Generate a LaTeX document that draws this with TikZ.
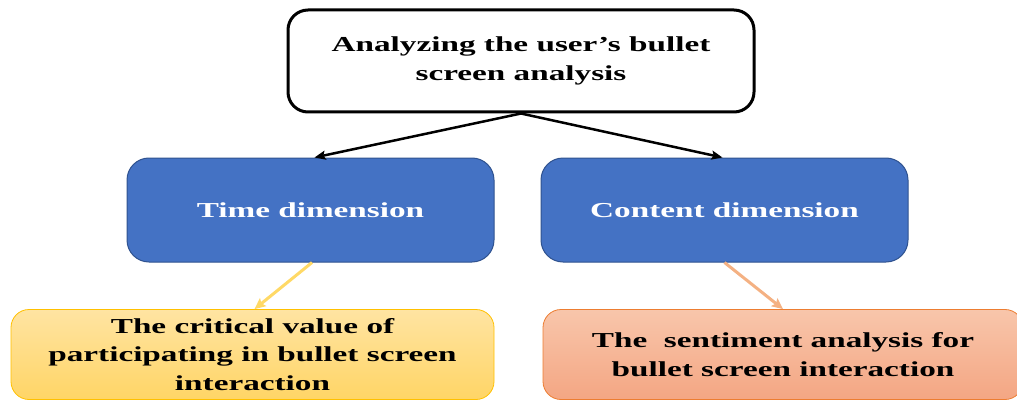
\documentclass[tikz,border=0pt]{standalone}
\usepackage{fontspec}
\setmainfont[FakeStretch=1.56]{Liberation Serif}
\usetikzlibrary{arrows.meta}
\definecolor{blueFill}{HTML}{4472C4}
\definecolor{blueLine}{HTML}{2F528F}
\definecolor{goldTop}{HTML}{FFE4A2}
\definecolor{goldBot}{HTML}{FFD566}
\definecolor{goldLine}{HTML}{FFC000}
\definecolor{goldArrow}{HTML}{FFD966}
\definecolor{peachTop}{HTML}{F8C6AB}
\definecolor{peachBot}{HTML}{F4A683}
\definecolor{peachLine}{HTML}{ED7D31}
\definecolor{peachArrow}{HTML}{F4B183}
\tikzset{
  txt/.style={align=center, font=\fontsize{21.3}{28.5}\selectfont\bfseries, inner sep=0pt},
  rootbox/.style={txt, draw=black, line width=3pt, fill=white, rounded corners=20pt,
    minimum width=466pt, minimum height=102pt},
  dimbox/.style={txt, text=white, draw=blueLine, line width=1pt, fill=blueFill,
    rounded corners=22pt, minimum width=367pt, minimum height=104pt},
  goldbox/.style={txt, draw=goldLine, line width=0.8pt, top color=goldTop, bottom color=goldBot,
    rounded corners=18pt, minimum width=483pt, minimum height=90pt},
  peachbox/.style={txt, draw=peachLine, line width=0.8pt, top color=peachTop, bottom color=peachBot,
    rounded corners=18pt, minimum width=480pt, minimum height=90pt},
  blackarrow/.style={line width=2.5pt, -{Stealth[length=11pt,width=9pt,inset=2pt]}},
  softarrow/.style={line width=3pt, -{Stealth[length=11pt,width=10pt,inset=2pt]}},
}
\begin{document}
\begin{tikzpicture}[x=1pt,y=-1pt]
  \useasboundingbox (0,0) rectangle (1017,401);
  \clip (0,0) rectangle (1017,401);
  \node[rootbox] (root) at (521,61) {Analyzing the user’s bullet\\screen analysis};
  \node[dimbox] (time) at (310.5,210) {Time dimension};
  \node[dimbox] (content) at (724.5,210) {Content dimension};
  \node[goldbox] (critical) at (252.5,354.5) {The critical value of\\participating in bullet screen\\interaction};
  \node[peachbox] (sentiment) at (783,354.5) {The\ \ sentiment analysis for\\bullet screen interaction};
  \draw[blackarrow] (root.south) -- ([xshift=4pt]time.north);
  \draw[blackarrow] (root.south) -- ([xshift=-2pt]content.north);
  \draw[softarrow, goldArrow] ([xshift=1.5pt]time.south) -- ([xshift=2pt]critical.north);
  \draw[softarrow, peachArrow] (content.south) -- (sentiment.north);
\end{tikzpicture}
\end{document}
